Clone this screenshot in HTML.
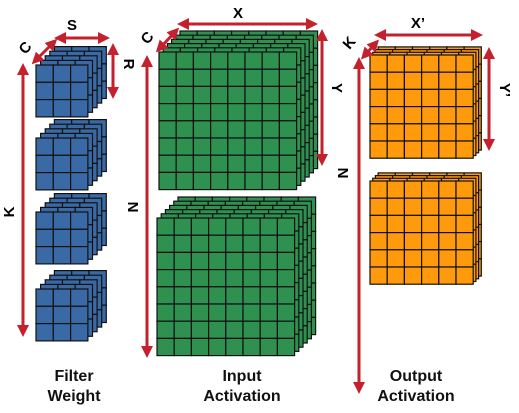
<!DOCTYPE html>
<html><head><meta charset="utf-8">
<style>
html,body{margin:0;padding:0;background:#fff;}
svg{display:block;font-family:"Liberation Sans",Arial,sans-serif;}
</style></head>
<body>
<svg id="s" width="519" height="413" viewBox="0 0 519 413" xmlns="http://www.w3.org/2000/svg">
<defs>
<marker id="ah" viewBox="0 0 10 10" refX="5" refY="5" markerWidth="4" markerHeight="4" orient="auto-start-reverse">
<path d="M0,0 L10,5 L0,10 z" fill="#c4202e"/>
</marker>
</defs>
<g id="blocks"></g>
<g id="arrows" stroke="#c4202e" stroke-width="3" fill="none"></g>
<g font-weight="bold" font-size="15" fill="#000">
<text x="72" y="30" text-anchor="middle">S</text>
<text transform="translate(29,51) rotate(-50)" text-anchor="middle">C</text>
<text transform="translate(124,64) rotate(90)" text-anchor="middle">R</text>
<text transform="translate(14,212) rotate(-90)" text-anchor="middle">K</text>
<text x="238" y="18" text-anchor="middle">X</text>
<text transform="translate(151,41) rotate(-50)" text-anchor="middle">C</text>
<text transform="translate(332,88) rotate(90)" text-anchor="middle">Y</text>
<text transform="translate(128,207) rotate(90)" text-anchor="middle">N</text>
<text x="418" y="28" text-anchor="middle">X’</text>
<text transform="translate(353,46) rotate(-50)" text-anchor="middle">K</text>
<text transform="translate(500,90) rotate(90)" text-anchor="middle">Y’</text>
<text transform="translate(338,173) rotate(90)" text-anchor="middle">N</text>
</g>
<g font-weight="bold" font-size="16" fill="#111" text-anchor="middle">
<text x="74" y="381">Filter</text>
<text x="74" y="401">Weight</text>
<text x="242" y="381">Input</text>
<text x="242" y="401">Activation</text>
<text x="416" y="381">Output</text>
<text x="416" y="401">Activation</text>
</g>
</svg>
<script>
var NS="http://www.w3.org/2000/svg";
var blocks=document.getElementById('blocks');
var arrows=document.getElementById('arrows');
function grid(name,x,y,cols,rows,cs,layers,off,fill){
  var g=document.createElementNS(NS,'g');
  
  
  for(var l=layers;l>=0;l--){
    var ox=x+l*off, oy=y-l*off;
    for(var r=0;r<rows;r++)for(var c=0;c<cols;c++){
      var rc=document.createElementNS(NS,'rect');
      rc.setAttribute('x',ox+c*cs);rc.setAttribute('y',oy+r*cs);
      rc.setAttribute('width',cs);rc.setAttribute('height',cs);
      rc.setAttribute('fill',fill);rc.setAttribute('stroke','#111');rc.setAttribute('stroke-width','1.2');
      g.appendChild(rc);
    }
  }
  blocks.appendChild(g);
}
var B='#3a6aa6',G='#2f9150',O='#ff9a0d';
grid('filter-block-1',36,65,3,3,17.3,4,4.6,B);
grid('filter-block-2',36,138,3,3,17.3,4,4.6,B);
grid('filter-block-3',36,212,3,3,17.3,4,4.6,B);
grid('filter-block-4',36,289,3,3,17.3,4,4.6,B);
grid('input-block-1',159,52,8,8,17.2,5,4.2,G);
grid('input-block-2',157,218,8,8,17.2,5,4.2,G);
grid('output-block-1',370,55,6,6,17.2,3,2.7,O);
grid('output-block-2',370,181,6,6,17.2,3,2.7,O);
function arrow(name,x1,y1,x2,y2){
  var l=document.createElementNS(NS,'line');
  
  
  l.setAttribute('x1',x1);l.setAttribute('y1',y1);l.setAttribute('x2',x2);l.setAttribute('y2',y2);
  l.setAttribute('marker-start','url(#ah)');l.setAttribute('marker-end','url(#ah)');
  arrows.appendChild(l);
}
arrow('arrow-s',60,38,104,38);
arrow('arrow-c-filter',36,60,53,43);
arrow('arrow-r',113,49,113,93);
arrow('arrow-k-filter',23,69,23,331);
arrow('arrow-x',183,24,312,24);
arrow('arrow-c-input',160,48,175,32);
arrow('arrow-y',322,35,322,160);
arrow('arrow-n-input',147,61,147,352);
arrow('arrow-x-prime',380,35,477,35);
arrow('arrow-k-output',365,55,375,44);
arrow('arrow-y-prime',489,53,489,145);
arrow('arrow-n-output',359,63,359,388);
</script>
</body></html>
